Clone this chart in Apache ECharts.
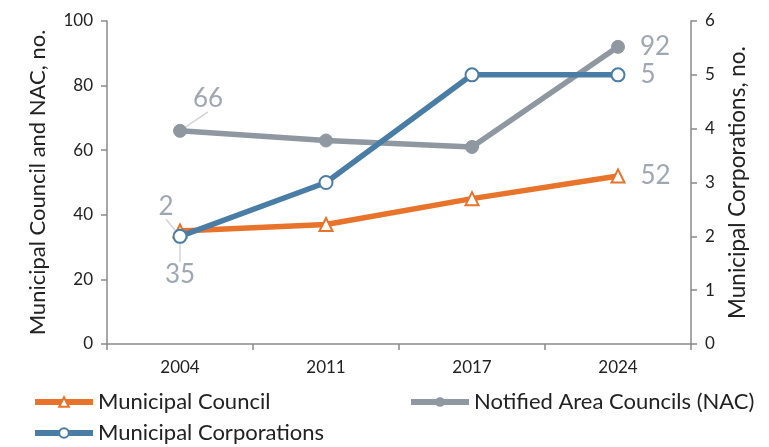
<!DOCTYPE html>
<html>
<head>
<meta charset="utf-8">
<script src="https://cdn.jsdelivr.net/npm/echarts@6/dist/echarts.min.js"></script>
<style>
  html, body { margin: 0; padding: 0; background: #fff; }
  #chart { width: 769px; height: 447px; }
</style>
</head>
<body>
<div id="chart"></div>
<script>
const years = ['2004', '2011', '2017', '2024']
const councilValues = [35, 37, 45, 52]
const nacValues = [66, 63, 61, 92]
const corporationValues = [2, 3, 5, 5]

const orange = '#e8732a'
const blue = '#4a7da6'
const gray = '#8f97a1'
const labelGray = '#9ea7b3'
const axisGray = '#8a8a8a'
const font = 'Lato'

// 2004 labels are pulled away from the point with a guide line (dx, dy)
const leaderSpots = {
  0: [0, 44],
  1: [28, -32],
  2: [-14, -30]
}

const chart = echarts.init(document.getElementById('chart'))

const makeData = (values) =>
  values.map((v, i) => {
    if (i === 0) return { value: v, label: { show: true, position: 'inside' } }
    if (i === values.length - 1) {
      return {
        value: v,
        label: { show: true, position: 'right', distance: 15 },
        labelLine: { show: false }
      }
    }
    return v
  })

const baseLabel = {
  show: false,
  color: labelGray,
  fontFamily: font,
  fontSize: 26,
  formatter: '{c}'
}

const legendText = { fontSize: 22, color: '#222', fontFamily: font }
const legendBase = {
  itemWidth: 58,
  itemHeight: 12,
  itemGap: 0,
  lineStyle: { width: 6 },
  textStyle: legendText
}

chart.setOption({
  animation: false,
  textStyle: { fontFamily: font },
  grid: { left: 107, right: 78, top: 21, bottom: 103 },
  legend: [
    { ...legendBase, left: 27, top: 386, data: ['Municipal Council'] },
    { ...legendBase, left: 403, top: 386, data: ['Notified Area Councils (NAC)'] },
    { ...legendBase, left: 27, top: 417, data: ['Municipal Corporations'] }
  ],
  xAxis: {
    type: 'category',
    data: years,
    boundaryGap: true,
    axisLine: { lineStyle: { color: axisGray, width: 1.5 } },
    axisTick: { show: true, length: 6, lineStyle: { color: axisGray, width: 1.5 } },
    axisLabel: { color: '#222', fontSize: 17, margin: 15 }
  },
  yAxis: [
    {
      type: 'value',
      min: 0,
      max: 100,
      interval: 20,
      name: 'Municipal Council and NAC, no.',
      nameLocation: 'middle',
      nameGap: 58,
      nameTextStyle: { fontSize: 22, color: '#222' },
      axisLine: { show: true, lineStyle: { color: axisGray, width: 1.5 } },
      axisTick: { show: true, length: 6, lineStyle: { color: axisGray, width: 1.5 } },
      axisLabel: { color: '#222', fontSize: 17, margin: 14 },
      splitLine: { show: false }
    },
    {
      type: 'value',
      min: 0,
      max: 6,
      interval: 1,
      name: 'Municipal Corporations, no.',
      nameLocation: 'middle',
      nameGap: 35,
      nameTextStyle: { fontSize: 22.5, color: '#222' },
      axisLine: { show: true, lineStyle: { color: axisGray, width: 1.5 } },
      axisTick: { show: true, length: 6, lineStyle: { color: axisGray, width: 1.5 } },
      axisLabel: { color: '#222', fontSize: 17, margin: 14 },
      splitLine: { show: false }
    }
  ],
  series: [
    {
      name: 'Municipal Council',
      type: 'line',
      yAxisIndex: 0,
      data: makeData(councilValues),
      symbol: 'triangle',
      symbolSize: 13,
      lineStyle: { color: orange, width: 5.5 },
      itemStyle: { color: '#fff', borderColor: orange, borderWidth: 2 },
      label: baseLabel,
      labelLine: { show: true, lineStyle: { color: '#d4d4d4', width: 1.5 } },
      z: 3
    },
    {
      name: 'Notified Area Councils (NAC)',
      type: 'line',
      yAxisIndex: 0,
      data: makeData(nacValues),
      symbol: 'circle',
      symbolSize: 13,
      lineStyle: { color: gray, width: 5.5 },
      itemStyle: { color: gray, borderColor: gray },
      label: baseLabel,
      labelLine: { show: true, lineStyle: { color: '#d4d4d4', width: 1.5 } },
      z: 2
    },
    {
      name: 'Municipal Corporations',
      type: 'line',
      yAxisIndex: 1,
      data: makeData(corporationValues),
      symbol: 'circle',
      symbolSize: 13,
      lineStyle: { color: blue, width: 5.5 },
      itemStyle: { color: '#fff', borderColor: blue, borderWidth: 2 },
      label: baseLabel,
      labelLine: { show: true, lineStyle: { color: '#d4d4d4', width: 1.5 } },
      z: 4
    }
  ],
  labelLayout: (params) => {
    if (params.dataIndex !== 0) return {}
    const spot = leaderSpots[params.seriesIndex]
    return { dx: spot[0], dy: spot[1] }
  }
})
</script>
</body>
</html>
